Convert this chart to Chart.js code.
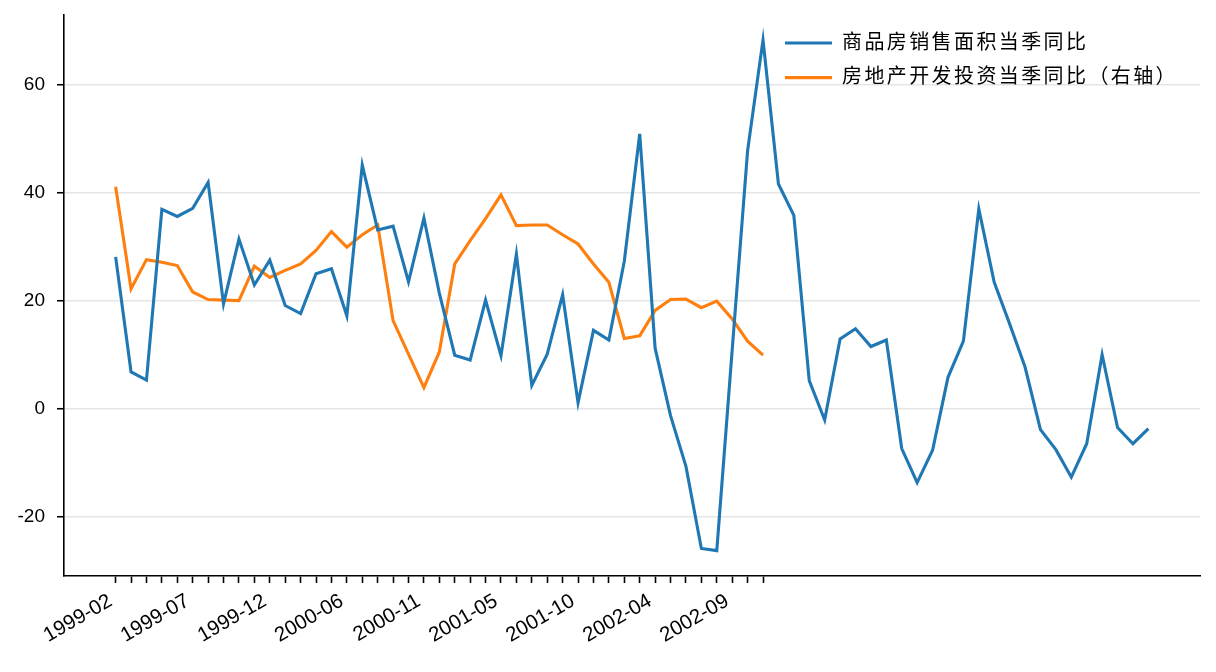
<!DOCTYPE html>
<html>
<head>
<meta charset="utf-8">
<script src="https://cdn.jsdelivr.net/npm/chart.js@4/dist/chart.umd.min.js"></script>
<style>
  html, body { margin: 0; padding: 0; background: #fff; }
  #chart { display: block; }
</style>
</head>
<body>
<canvas id="chart" width="1216" height="672" style="width:1216px;height:672px"></canvas>
<script>
// 月份（1月与2月合并，没有1月）
const months = [
    '1999-02', '1999-03', '1999-04', '1999-05', '1999-06', '1999-07', '1999-08', '1999-09', '1999-10', '1999-11', '1999-12',
    '2000-02', '2000-03', '2000-04', '2000-05', '2000-06', '2000-07', '2000-08', '2000-09', '2000-10', '2000-11', '2000-12',
    '2001-02', '2001-03', '2001-04', '2001-05', '2001-06', '2001-07', '2001-08', '2001-09', '2001-10', '2001-11', '2001-12',
    '2002-02', '2002-03', '2002-04', '2002-05', '2002-06', '2002-07', '2002-08', '2002-09', '2002-10', '2002-11'
];

// 商品房销售面积当季同比
const salesAreaYoY = [
    28.2, 6.9, 5.4, 37.0, 35.7, 37.2, 42.0, 19.5, 31.5, 23.0, 27.6,
    19.2, 17.7, 25.1, 26.0, 17.3, 45.2, 33.2, 33.9, 23.6, 35.4, 21.5,
    10.0, 9.1, 20.2, 9.9, 28.7, 4.4, 10.2, 21.2, 1.2, 14.6, 12.8,
    27.4, 51.0, 11.3, -1.2, -10.6, -25.8, -26.2, 11.0, 47.9, 68.4,
    41.7, 35.9, 5.3, -2.0, 13.0, 14.9, 11.6, 12.8, -7.3, -13.6, -7.6,
    5.9, 12.6, 37.1, 23.5, 15.8, 7.8, -3.8, -7.5, -12.6, -6.4, 10.1,
    -3.4, -6.4, -3.6
];

// 房地产开发投资当季同比
const investYoY = [
    41.2, 22.3, 27.7, 27.2, 26.6, 21.7, 20.3, 20.2, 20.1, 26.5, 24.4,
    25.7, 26.9, 29.4, 32.9, 30.0, 32.3, 34.1, 16.4, 10.2, 4.0, 10.6,
    26.9, 31.2, 35.3, 39.7, 34.0, 34.1, 34.1, 32.3, 30.6, 26.9, 23.5,
    13.1, 13.6, 18.3, 20.3, 20.4, 18.8, 20.0, 16.7, 12.6, 10.0
];

const yTicks = [-20, 0, 20, 40, 60];
const labelEvery = 5;

const FONT = "'Liberation Sans', 'Noto Sans CJK SC', sans-serif";
const BLUE = '#1f77b4';
const ORANGE = '#ff7f0e';

// 图例放进绘图区右上角，字距稍微拉开
const legendPlacer = {
    id: 'legendPlacer',
    afterLayout(chart) {
        const lg = chart.legend;
        const pad = lg.options.labels.padding;
        const fs = lg.options.labels.font.size;
        lg.left = 785 - pad;
        lg.top = 43 - fs / 2 - pad;
        if (!lg._spaced) {
            const origDraw = lg.draw;
            lg.draw = function () {
                const c = this.ctx;
                c.save();
                c.letterSpacing = '2.4px';
                origDraw.apply(this, arguments);
                c.restore();
            };
            lg._spaced = true;
        }
    }
};

const ctx = document.getElementById('chart').getContext('2d');
new Chart(ctx, {
    type: 'line',
    data: {
        datasets: [
            {
                label: '商品房销售面积当季同比',
                data: salesAreaYoY.map((v, i) => ({ x: i, y: v })),
                borderColor: BLUE,
                backgroundColor: BLUE,
                borderWidth: 3.1,
                pointRadius: 0,
                tension: 0
            },
            {
                label: '房地产开发投资当季同比（右轴）',
                data: investYoY.map((v, i) => ({ x: i, y: v })),
                borderColor: ORANGE,
                backgroundColor: ORANGE,
                borderWidth: 3.1,
                pointRadius: 0,
                tension: 0
            }
        ]
    },
    options: {
        responsive: false,
        animation: false,
        devicePixelRatio: 1,
        layout: { padding: { top: 14.5, right: 16, left: 0, bottom: 0 } },
        font: { family: FONT },
        plugins: {
            tooltip: { enabled: false },
            legend: {
                position: 'chartArea',
                align: 'start',
                labels: {
                    usePointStyle: true,
                    pointStyle: 'line',
                    pointStyleWidth: 47,
                    padding: 14.6,
                    color: '#000',
                    font: { family: FONT, size: 20 }
                }
            }
        },
        scales: {
            x: {
                type: 'linear',
                min: -3.35,
                max: 70.35,
                afterBuildTicks: (scale) => {
                    scale.ticks = months.map((_, i) => ({ value: i }));
                },
                afterFit: (scale) => {
                    scale.height = 96;
                    scale.paddingLeft = 0;
                    scale.paddingRight = 0;
                },
                grid: {
                    drawOnChartArea: false,
                    drawTicks: true,
                    tickLength: 7,
                    tickColor: '#000',
                    tickWidth: 1.6
                },
                border: { display: true, color: '#000', width: 1.6 },
                ticks: {
                    autoSkip: false,
                    minRotation: 30,
                    maxRotation: 30,
                    padding: 6,
                    labelOffset: -5,
                    color: '#000',
                    font: { family: FONT, size: 20.5 },
                    callback: (value, index) => (index % labelEvery === 0 ? months[index] : '')
                }
            },
            y: {
                min: -30.9,
                max: 73.1,
                afterBuildTicks: (scale) => {
                    scale.ticks = yTicks.map(v => ({ value: v }));
                },
                afterFit: (scale) => {
                    scale.width = 64;
                    scale.paddingTop = 0;
                    scale.paddingBottom = 0;
                },
                grid: {
                    color: '#e5e5e5',
                    lineWidth: 1.5,
                    drawTicks: true,
                    tickLength: 7,
                    tickColor: '#000',
                    tickWidth: 1.6
                },
                border: { display: true, color: '#000', width: 1.6 },
                ticks: {
                    padding: 12,
                    color: '#000',
                    font: { family: FONT, size: 19 }
                }
            }
        }
    },
    plugins: [legendPlacer]
});
</script>
</body>
</html>
